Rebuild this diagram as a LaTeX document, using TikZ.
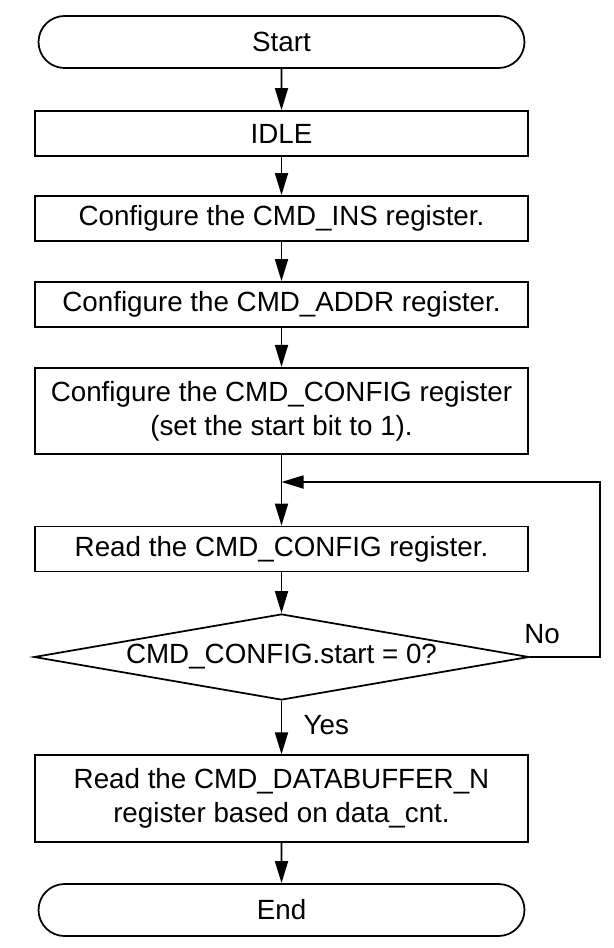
\documentclass[tikz,border=0pt]{standalone}
\usepackage{fontspec}
\setmainfont{Liberation Sans}
\usetikzlibrary{shapes.geometric, shapes.misc, arrows.meta}

\tikzset{
  base/.style={draw, line width=1pt, font=\fontsize{15.8}{19.4}\selectfont, align=center, inner sep=2pt},
  termbox/.style={base, rounded rectangle, minimum width=9.86cm, minimum height=1.04cm},
  procbox/.style={base, rectangle, minimum width=9.86cm, minimum height=0.9cm},
  tallbox/.style={procbox, minimum height=1.73cm},
  decbox/.style={base, diamond, aspect=5.74, minimum width=9.9cm, minimum height=1.72cm, inner sep=0pt},
  flow/.style={line width=1pt, -{Triangle[length=0.44cm, width=0.26cm]}},
  lbl/.style={font=\fontsize{15.8}{19.4}\selectfont}
}

\begin{document}
\begin{tikzpicture}[scale=1]
		\useasboundingbox (0,0) rectangle (12.28,-18.96);
		% Draw steps
		\node[termbox] (start) at (5.63,-0.84) {Start};
		\node[procbox] (idle) at (5.63,-2.67) {IDLE};
		\node[procbox] (ins) at (5.63,-4.37) {Configure the CMD\_INS register.};
		\node[procbox] (addr) at (5.63,-6.09) {Configure the CMD\_ADDR register.};
		\node[tallbox] (cfg) at (5.63,-8.22) {Configure the CMD\_CONFIG register\\(set the start bit to 1).};
		\node[procbox] (rdcfg) at (5.63,-10.98) {Read the CMD\_CONFIG register.};
		\node[decbox] (chk) at (5.63,-13.14) {CMD\_CONFIG.start = 0?};
		\node[tallbox] (rdbuf) at (5.63,-15.97) {Read the CMD\_DATABUFFER\_N\\register based on data\_cnt.};
		\node[termbox] (end) at (5.63,-18.2) {End};
		% Loop point
		\coordinate (join) at (5.63,-9.64);
		\coordinate (back) at (12.0,-9.64);
		% Draw arrows
		\draw[flow] (start) -- (idle);
		\draw[flow] (idle) -- (ins);
		\draw[flow] (ins) -- (addr);
		\draw[flow] (addr) -- (cfg);
		\draw[flow] (cfg) -- (rdcfg);
		\draw[flow] (rdcfg) -- (chk);
		\draw[flow] (chk) -- (rdbuf);
		\draw[flow] (rdbuf) -- (end);
		\draw[flow] (chk.east) -| (back) -- (join);
		% Label branches
		\node[lbl] (no) at (10.84,-12.68) {No};
		\node[lbl, anchor=west] (yes) at (5.95,-14.5) {Yes};
	\end{tikzpicture}
\end{document}
